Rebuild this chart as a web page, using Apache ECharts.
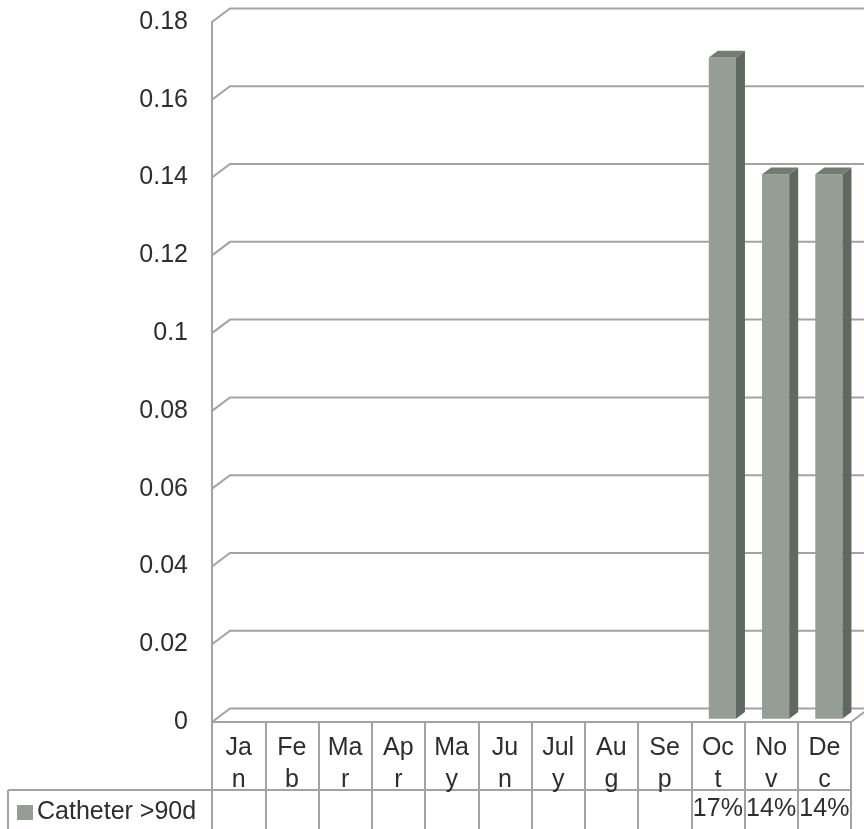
<!DOCTYPE html>
<html>
<head>
<meta charset="utf-8">
<script src="https://cdn.jsdelivr.net/npm/echarts@6/dist/echarts.min.js"></script>
<style>html,body{margin:0;padding:0;background:#fff}#c{width:864px;height:829px}</style>
</head>
<body>
<div id="c"></div>
<script>
const months = ['Jan','Feb','Mar','Apr','May','Jun','July','Aug','Sep','Oct','Nov','Dec'];
const catheterValues = [null,null,null,null,null,null,null,null,null,0.17,0.14,0.14];
const yTicks = [0,0.02,0.04,0.06,0.08,0.1,0.12,0.14,0.16,0.18];
const seriesName = 'Catheter >90d';

const pctLabels = catheterValues.map(v => v == null ? '' : Math.round(v * 100) + '%');

const FONT = "'Liberation Sans', Arial, sans-serif";
const TXT = '#2e2e2e';
const LINE = '#a3a3a3';
const DX = 18, DY = -13.5;
const FRONT = '#959e94', SIDE = '#5f6960', TOP = '#737c71';

function wrapMonth(n) {
  return n.length === 4 ? n.slice(0, 3) + '\n' + n.slice(3) : n.slice(0, 2) + '\n' + n.slice(2);
}

function renderGrid(params, api) {
  const v = api.value(1);
  const cs = params.coordSys;
  const y = api.coord([0, v])[1];
  const x0 = cs.x, x1 = cs.x + cs.width;
  const children = [{
    type: 'polyline',
    shape: { points: [[x0, y], [x0 + DX, y + DY], [x1 + DX, y + DY]] },
    style: { stroke: LINE, lineWidth: 2, fill: null }
  }];
  if (v === 0) {
    children.push({
      type: 'line',
      shape: { x1: x1, y1: y, x2: x1 + DX, y2: y + DY },
      style: { stroke: LINE, lineWidth: 2 }
    });
  }
  return { type: 'group', children: children };
}

function renderBar(params, api) {
  const v = api.value(1);
  if (v == null || isNaN(v)) return;
  const i = api.value(0);
  const base = api.coord([i, 0]);
  const top = api.coord([i, v]);
  const bw = api.size([1, 0])[0];
  const w = bw * 0.51;
  const fx = base[0] - w / 2 + DX * 0.25;
  const fyB = base[1] + DY * 0.25;
  const fyT = top[1] + DY * 0.25;
  const sx = DX * 0.5, sy = DY * 0.5;
  return {
    type: 'group',
    children: [
      { type: 'rect', shape: { x: fx, y: fyT, width: w, height: fyB - fyT }, style: { fill: FRONT } },
      { type: 'polygon', shape: { points: [[fx + w, fyT], [fx + w + sx, fyT + sy], [fx + w + sx, fyB + sy], [fx + w, fyB]] }, style: { fill: SIDE } },
      { type: 'polygon', shape: { points: [[fx, fyT], [fx + sx, fyT + sy], [fx + w + sx, fyT + sy], [fx + w, fyT]] }, style: { fill: TOP } }
    ]
  };
}

const chart = echarts.init(document.getElementById('c'), null, { renderer: 'canvas' });
chart.setOption({
  animation: false,
  backgroundColor: '#fff',
  textStyle: { fontFamily: FONT },
  grid: { left: 212, right: 13, top: 22, bottom: 107, containLabel: false },
  legend: {
    data: [seriesName],
    left: 12, top: 795,
    icon: 'rect', itemWidth: 16, itemHeight: 15, itemGap: 10,
    textStyle: { fontSize: 25, color: TXT, fontFamily: FONT, padding: [0, 0, 0, -1] },
    selectedMode: false
  },
  xAxis: [{
    type: 'category',
    data: months,
    position: 'bottom',
    axisLine: { show: true, lineStyle: { color: LINE, width: 2 } },
    axisTick: { show: true, length: 110, lineStyle: { color: LINE, width: 2 } },
    axisLabel: { formatter: wrapMonth, fontSize: 25, lineHeight: 32, color: TXT, margin: 10, interval: 0, fontFamily: FONT }
  }, {
    type: 'category',
    data: pctLabels,
    position: 'bottom',
    offset: 68,
    axisLine: { show: true, lineStyle: { color: LINE, width: 2 } },
    axisTick: { show: false },
    axisLabel: { fontSize: 25, lineHeight: 32, color: TXT, margin: 3, interval: 0, fontFamily: FONT }
  }],
  yAxis: {
    type: 'value',
    min: 0, max: 0.18, interval: 0.02,
    axisLine: { show: true, lineStyle: { color: LINE, width: 2 } },
    axisTick: { show: false },
    splitLine: { show: false },
    axisLabel: { fontSize: 25, color: TXT, margin: 24, fontFamily: FONT, formatter: v => String(+v.toFixed(2)) }
  },
  graphic: [
    { type: 'line', shape: { x1: 8, y1: 790, x2: 212, y2: 790 }, style: { stroke: LINE, lineWidth: 2 } },
    { type: 'line', shape: { x1: 8, y1: 790, x2: 8, y2: 829 }, style: { stroke: LINE, lineWidth: 2 } }
  ],
  series: [{
    type: 'custom',
    name: 'grid',
    silent: true,
    z: 1,
    renderItem: renderGrid,
    data: yTicks.map(v => [0, v])
  }, {
    type: 'custom',
    name: seriesName,
    z: 5,
    itemStyle: { color: FRONT },
    renderItem: renderBar,
    data: catheterValues.map((v, i) => [i, v])
  }]
});
</script>
</body>
</html>
